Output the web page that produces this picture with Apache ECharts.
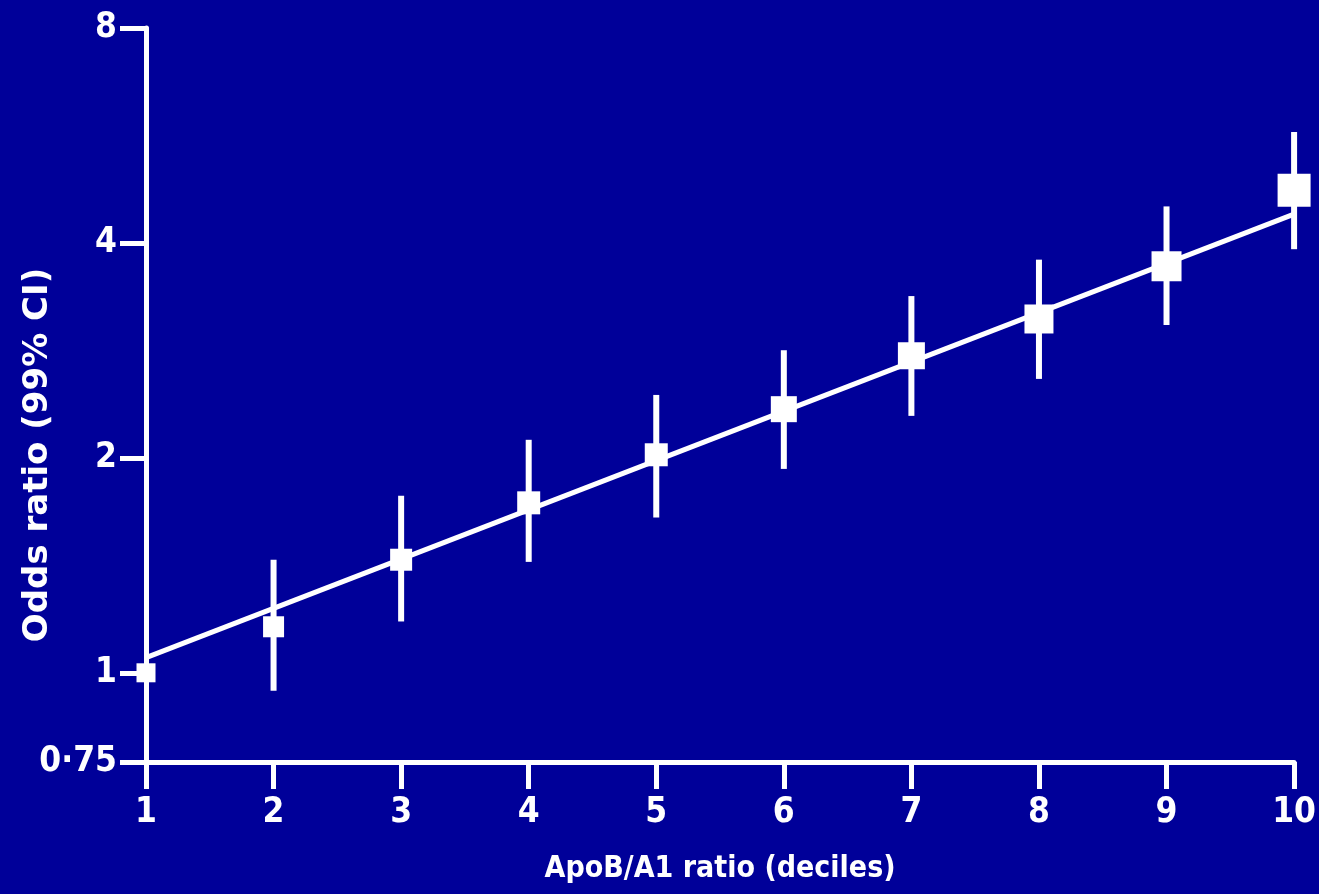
<!DOCTYPE html>
<html>

<head>
    <title>ApoB/A1</title>
    <meta http-equiv="Content-Type" content="text/html; charset=utf-8">
    <style>
        html, body { margin: 0; padding: 0; background: #000099; }
    </style>
</head>

<body>
    <div id="main" style="width: 1319px;height:894px;"></div>
    <script src="https://cdn.jsdelivr.net/npm/echarts@6/dist/echarts.min.js"></script>
    <script>
        // deciles of ApoB/A1 ratio
        var deciles = [1, 2, 3, 4, 5, 6, 7, 8, 9, 10];
        // odds ratio and 99% CI (decile 1 is the reference, no CI)
        var oddsRatio = [1.00, 1.16, 1.44, 1.73, 2.02, 2.34, 2.78, 3.13, 3.71, 4.74];
        var ciLow     = [null, 0.944, 1.18, 1.43, 1.65, 1.93, 2.29, 2.58, 3.07, 3.92];
        var ciHigh    = [null, 1.44, 1.77, 2.12, 2.45, 2.83, 3.37, 3.79, 4.50, 5.72];
        // fitted trend line end points
        var trendX = [1, 10];
        var trendY = [1.05, 4.39];
        // tick labels
        var yTicks = [0.75, 1, 2, 4, 8];
        var xTicks = [1, 2, 3, 4, 5, 6, 7, 8, 9, 10];

        // square size per decile (pixels)
        var markerSize = [19, 21, 22, 23, 23, 26, 27, 29, 30, 33];

        var font = 'DejaVu Sans Condensed';
        var white = '#ffffff';

        var ciData = [];
        var pointData = [];
        for (var i = 0; i < deciles.length; i++) {
            if (ciLow[i] != null) {
                ciData.push([deciles[i], ciLow[i], ciHigh[i]]);
            }
            pointData.push({
                value: [deciles[i], oddsRatio[i]],
                symbolSize: markerSize[i]
            });
        }

        var myChart = echarts.init(document.getElementById('main'));
        var option = {
            backgroundColor: '#000099',
            animation: false,
            grid: {
                left: 146,
                right: 22,
                top: 28,
                bottom: 132
            },
            graphic: [{
                type: 'text',
                x: 38,
                y: 455,
                rotation: Math.PI / 2,
                style: {
                    text: 'Odds ratio (99% CI)',
                    fill: white,
                    font: 'bold 34px "DejaVu Sans"',
                    textAlign: 'center',
                    textVerticalAlign: 'middle'
                }
            }],
            xAxis: {
                type: 'value',
                min: 1,
                max: 10,
                name: 'ApoB/A1 ratio (deciles)',
                nameLocation: 'middle',
                nameGap: 92,
                nameTextStyle: {
                    color: white,
                    fontFamily: font,
                    fontWeight: 'bold',
                    fontSize: 30
                },
                axisLine: { lineStyle: { color: white, width: 5 } },
                axisTick: {
                    length: 27,
                    lineStyle: { color: white, width: 5 },
                    customValues: xTicks
                },
                axisLabel: {
                    color: white,
                    fontFamily: font,
                    fontWeight: 'bold',
                    fontSize: 35,
                    margin: 33,
                    customValues: xTicks
                },
                splitLine: { show: false }
            },
            yAxis: {
                type: 'log',
                logBase: 2,
                min: 0.75,
                max: 8,
                axisLine: { lineStyle: { color: white, width: 5 } },
                axisTick: {
                    length: 26,
                    lineStyle: { color: white, width: 5 },
                    customValues: yTicks
                },
                axisLabel: {
                    color: white,
                    fontFamily: font,
                    fontWeight: 'bold',
                    fontSize: 35,
                    margin: 29,
                    customValues: yTicks,
                    formatter: function (v) {
                        return String(v).replace('.', '·');
                    }
                },
                splitLine: { show: false }
            },
            series: [
                {
                    // trend line
                    type: 'line',
                    data: [[trendX[0], trendY[0]], [trendX[1], trendY[1]]],
                    symbol: 'none',
                    lineStyle: { color: white, width: 5 },
                    z: 2
                },
                {
                    // 99% CI bars
                    type: 'custom',
                    data: ciData,
                    renderItem: function (params, api) {
                        var top = api.coord([api.value(0), api.value(2)]);
                        var bottom = api.coord([api.value(0), api.value(1)]);
                        return {
                            type: 'rect',
                            shape: {
                                x: top[0] - 3,
                                y: top[1],
                                width: 6,
                                height: bottom[1] - top[1]
                            },
                            style: { fill: white }
                        };
                    },
                    z: 3
                },
                {
                    type: 'scatter',
                    symbol: 'rect',
                    data: pointData,
                    itemStyle: { color: white, opacity: 1 },
                    z: 4
                }
            ]
        };
        myChart.setOption(option);
    </script>
</body>
</html>
